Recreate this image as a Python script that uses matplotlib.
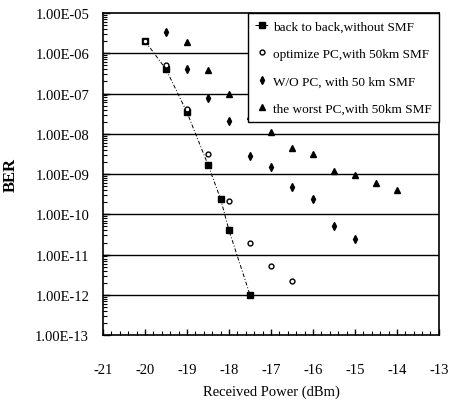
import numpy as np
import matplotlib.pyplot as plt
from matplotlib.ticker import FixedLocator, MultipleLocator, LogLocator, NullFormatter

plt.rcParams['font.family'] = ['Liberation Serif', 'DejaVu Serif']

# back to back, without SMF
p_b2b = [-20.0, -19.5, -19.0, -18.5, -18.2, -18.0, -17.5]
ber_b2b = [2.0e-6, 4.0e-7, 3.4e-8, 1.7e-9, 2.4e-10, 4.0e-11, 1.0e-12]

# optimize PC, with 50km SMF
p_opt = [-20.0, -19.5, -19.0, -18.5, -18.0, -17.5, -17.0, -16.5]
ber_opt = [2.0e-6, 5.0e-7, 4.2e-8, 3.2e-9, 2.1e-10, 2.0e-11, 5.2e-12, 2.2e-12]

# W/O PC, with 50 km SMF
p_wo = [-19.5, -19.0, -18.5, -18.0, -17.5, -17.0, -16.5, -16.0, -15.5, -15.0]
ber_wo = [3.3e-6, 4.0e-7, 7.8e-8, 2.1e-8, 2.8e-9, 1.5e-9, 4.7e-10, 2.4e-10, 5.1e-11, 2.4e-11]

# the worst PC, with 50km SMF
p_worst = [-19.0, -18.5, -18.0, -17.5, -17.0, -16.5, -16.0, -15.5, -15.0, -14.5, -14.0]
ber_worst = [1.9e-6, 3.8e-7, 1.0e-7, 2.8e-8, 1.1e-8, 4.4e-9, 3.2e-9, 1.2e-9, 9.6e-10, 6.0e-10, 4.0e-10]

labels = ["back to back,without SMF", "optimize PC,with 50km SMF",
          "W/O PC, with 50 km SMF", "the worst PC,with 50km SMF"]
yticks = [1e-5, 1e-6, 1e-7, 1e-8, 1e-9, 1e-10, 1e-11, 1e-12, 1e-13]
ytick_labels = ["1.00E-05", "1.00E-06", "1.00E-07", "1.00E-08", "1.00E-09",
                "1.00E-10", "1.00E-11", "1.00E-12", "1.00E-13"]
xticks = [-21, -20, -19, -18, -17, -16, -15, -14, -13]

fig = plt.figure(figsize=(4.52, 4.10), dpi=100)
ax = fig.add_axes([0.228, 0.180, 0.743, 0.786])

ax.set_yscale('log')
ax.set_xlim(-21, -13)
ax.set_ylim(1e-13, 1e-5)

# horizontal grid at each decade
for y in yticks[1:-1]:
    ax.axhline(y, color='black', lw=1.0, zorder=1)

ax.plot(p_b2b, ber_b2b, color='black', ls=(0, (4, 2, 1, 2)), lw=0.7,
        marker='s', ms=5, mfc='black', mec='black', label=labels[0], zorder=3)
ax.plot(p_opt, ber_opt, ls='none', marker='o', ms=3.5, mfc='white',
        mec='black', mew=1.0, label=labels[1], zorder=4)
ax.plot(p_wo, ber_wo, ls='none', marker='d', ms=4, color='black',
        label=labels[2], zorder=3)
ax.plot(p_worst, ber_worst, ls='none', marker='^', ms=4.5, color='black',
        label=labels[3], zorder=3)

ax.yaxis.set_major_locator(FixedLocator(yticks))
ax.set_yticklabels(ytick_labels, fontsize=10.5)
ax.yaxis.set_minor_locator(LogLocator(base=10, subs=np.arange(2, 10)))
ax.yaxis.set_minor_formatter(NullFormatter())
ax.set_xticks(xticks)
ax.set_xticklabels([str(v) for v in xticks], fontsize=10.5)
ax.xaxis.set_minor_locator(MultipleLocator(0.2))

ax.tick_params(axis='y', which='major', direction='in', length=5, width=1.0, pad=10)
ax.tick_params(axis='y', which='minor', direction='in', length=3, width=0.8)
ax.tick_params(axis='x', which='major', direction='in', length=4, width=1.0, pad=20)
ax.tick_params(axis='x', which='minor', direction='in', length=3, width=0.8)
ax.tick_params(right=False, top=False)

for s in ax.spines.values():
    s.set_linewidth(1.2)

ax.set_xlabel("Received Power (dBm)", fontsize=10.5, labelpad=6)
ax.set_ylabel("BER", fontsize=12, fontweight='bold', labelpad=12)

leg = ax.legend(loc='upper right', fontsize=9.5, frameon=True, fancybox=False,
                edgecolor='black', framealpha=1, borderpad=0.55, handlelength=1.0,
                handletextpad=0.35, labelspacing=1.15, borderaxespad=0)
leg.get_frame().set_linewidth(1.0)
leg.set_zorder(5)

fig.savefig("out.png", dpi=100, facecolor='white')
